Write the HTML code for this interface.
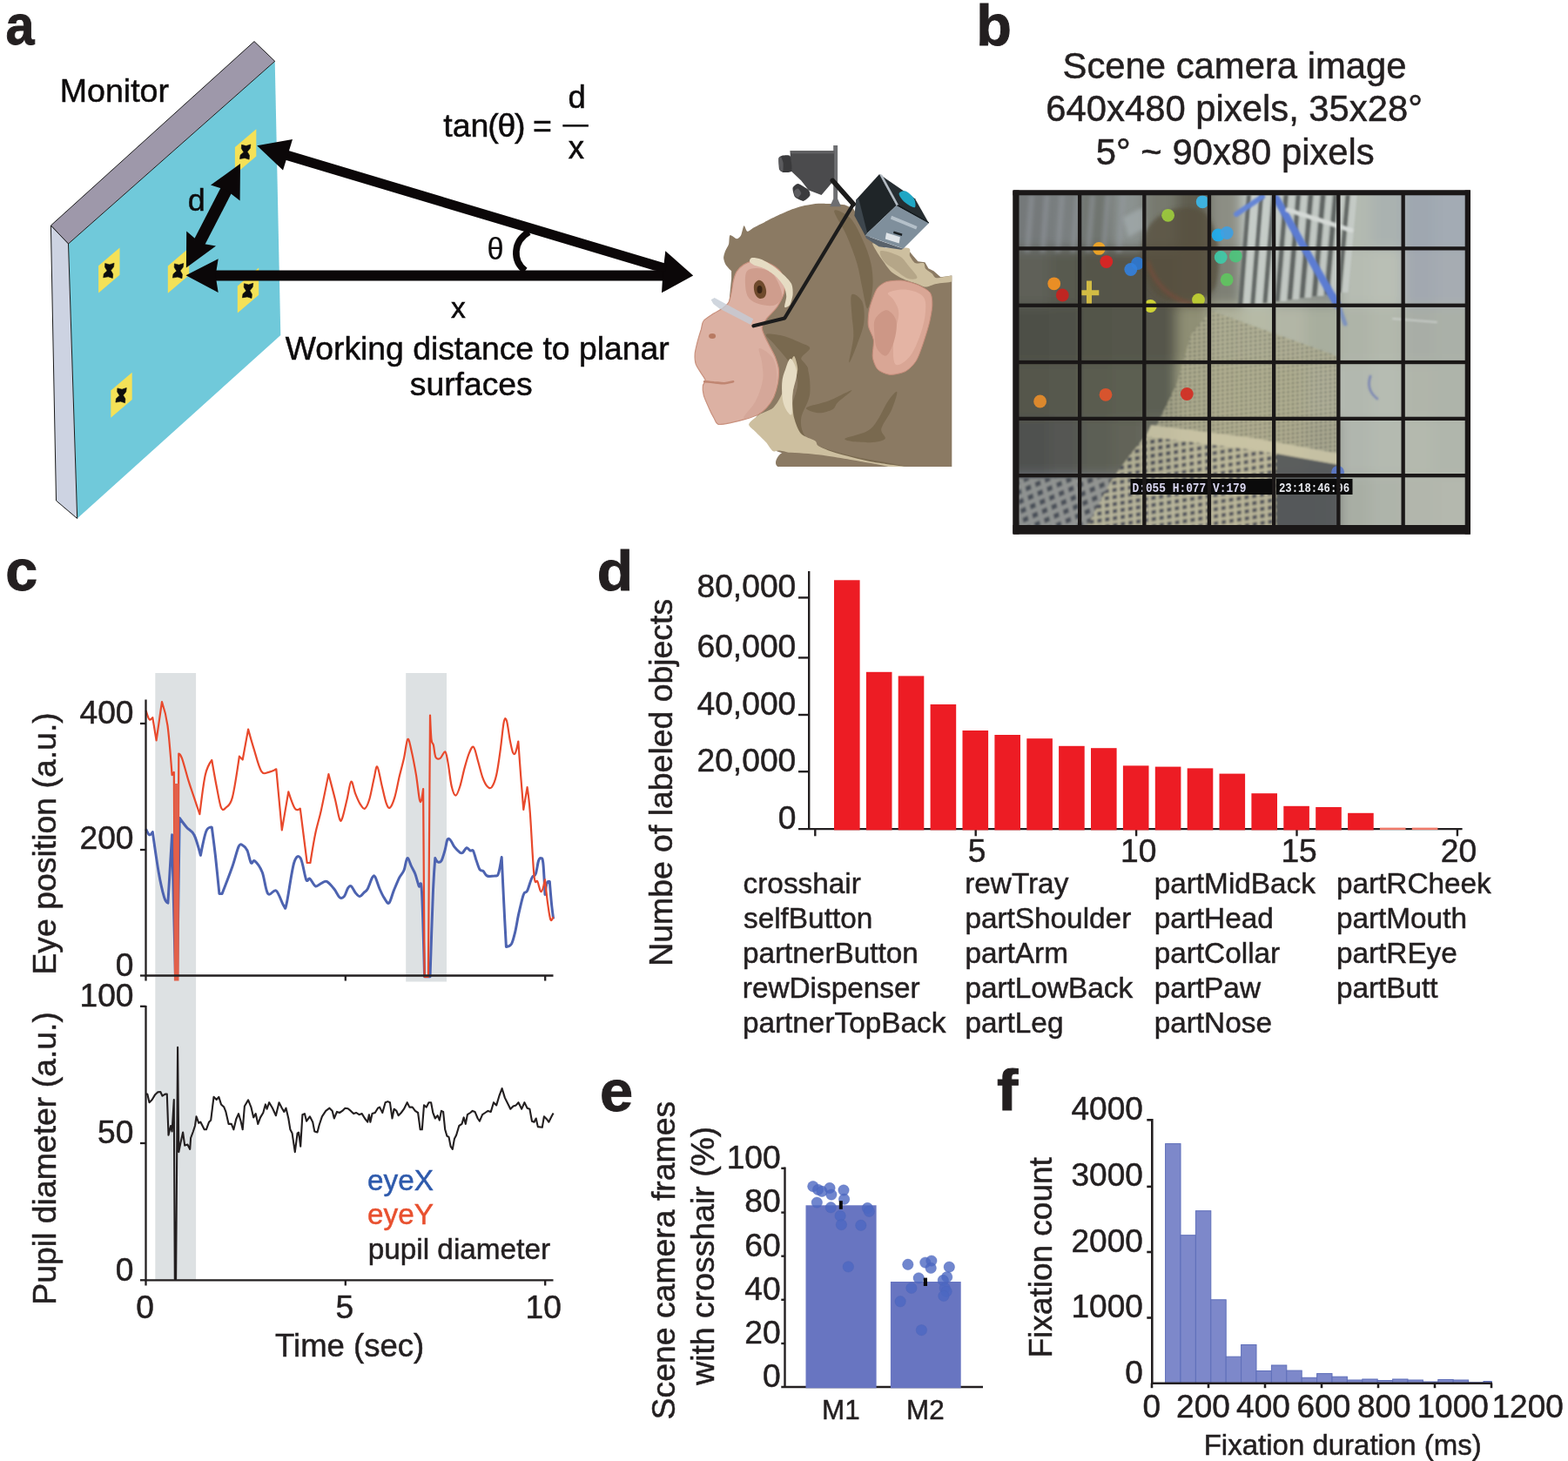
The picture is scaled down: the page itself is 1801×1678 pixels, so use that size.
<!DOCTYPE html>
<html lang="en">
<head>
<meta charset="utf-8">
<title>Figure: wireless eye tracking calibration and labeled objects</title>
<style>
html, body { margin: 0; padding: 0; background: #ffffff; }
body { width: 1801px; height: 1678px; overflow: hidden; }
svg { display: block; font-family: "Liberation Sans", sans-serif; }
</style>
</head>
<body>
<svg width="1801" height="1678" viewBox="0 0 1801 1678">
<rect x="0" y="0" width="1801" height="1678" fill="#ffffff"/>
<g id="panel-a">
<text transform="translate(6.56 51.36) scale(0.5936 0.6524)" x="0" y="0" font-size="100" font-weight="bold" fill="#231f20" stroke="#231f20" stroke-width="1.4">a</text>
<text x="68.7" y="116.7" font-size="37.6" text-anchor="start" fill="#0d0b0c" font-weight="normal"  stroke="#0d0b0c" stroke-width="0.5">Monitor</text>
<path d="M78.5,280.0 L315.7,70.3 L322.3,385.0 L88.7,595.5Z" fill="#70c9da"/>
<path d="M58.4,259.0 L292.0,47.6 L315.7,70.3 L78.5,280.0Z" fill="#9e98aa" stroke="#1a1a1a" stroke-width="1"/>
<path d="M58.4,259.0 L78.5,280.0 L88.7,595.5 L64.5,575.0Z" fill="#cdd3e2" stroke="#1a1a1a" stroke-width="1"/>
<path d="M113.1,305.3 L137.5,284.5 L137.5,315.7 L113.1,336.5Z" fill="#f4e157"/><path d="M120.7,302.6 L125.9,303.9 L131.1,302.2 L130.5,306.6 L127.3,310.6 L129.7,314.8 L129.3,319.4 L124.3,317.8 L118.7,318.8 L119.3,314.4 L123.1,311.0 L120.5,306.8Z" fill="#0d0d0d" stroke="#0d0d0d" stroke-width="0.6" stroke-linejoin="round"/>
<path d="M192.8,305.6 L217.2,284.8 L217.2,316.0 L192.8,336.8Z" fill="#f4e157"/><path d="M200.4,302.9 L205.6,304.2 L210.8,302.5 L210.2,306.9 L207.0,310.9 L209.4,315.1 L209.0,319.7 L204.0,318.1 L198.4,319.1 L199.0,314.7 L202.8,311.3 L200.2,307.1Z" fill="#0d0d0d" stroke="#0d0d0d" stroke-width="0.6" stroke-linejoin="round"/>
<path d="M269.9,169.0 L294.3,148.2 L294.3,179.4 L269.9,200.2Z" fill="#f4e157"/><path d="M277.5,166.3 L282.7,167.6 L287.9,165.9 L287.3,170.3 L284.1,174.3 L286.5,178.5 L286.1,183.1 L281.1,181.5 L275.5,182.5 L276.1,178.1 L279.9,174.7 L277.3,170.5Z" fill="#0d0d0d" stroke="#0d0d0d" stroke-width="0.6" stroke-linejoin="round"/>
<path d="M272.8,328.4 L297.2,307.6 L297.2,338.8 L272.8,359.6Z" fill="#f4e157"/><path d="M280.4,325.7 L285.6,327.0 L290.8,325.3 L290.2,329.7 L287.0,333.7 L289.4,337.9 L289.0,342.5 L284.0,340.9 L278.4,341.9 L279.0,337.5 L282.8,334.1 L280.2,329.9Z" fill="#0d0d0d" stroke="#0d0d0d" stroke-width="0.6" stroke-linejoin="round"/>
<path d="M127.3,448.6 L151.7,427.8 L151.7,459.0 L127.3,479.8Z" fill="#f4e157"/><path d="M134.9,445.9 L140.1,447.2 L145.3,445.5 L144.7,449.9 L141.5,453.9 L143.9,458.1 L143.5,462.7 L138.5,461.1 L132.9,462.1 L133.5,457.7 L137.3,454.3 L134.7,450.1Z" fill="#0d0d0d" stroke="#0d0d0d" stroke-width="0.6" stroke-linejoin="round"/>
<path d="M246,310.6 L762,310.6 L762,322.5 L246,322.5Z" fill="#0b0708"/>
<path d="M213.5,316.2 L250.7,297.3 L247.6,316.4 L250.7,335.9Z" fill="#0b0708"/>
<path d="M796.2,316.6 L764.3,288.3 L761.5,312.0 L760.0,336.3Z" fill="#0b0708"/>
<path d="M329.0,172.3 L766.0,303.2 L764.0,312.0 L752.0,310.8 L325.5,183.0Z" fill="#0b0708"/>
<path d="M295.2,167.2 L336.0,160.0 L330.5,178.0 L325.0,195.5Z" fill="#0b0708"/>
<path d="M233.8,284.1 L267.7,218.3 L255.4,212.0 L221.5,277.8Z" fill="#0b0708"/>
<path d="M276.0,188.0 L242.0,212.6 L259.5,218.0 L275.6,230.5Z" fill="#0b0708"/>
<path d="M213.9,307.6 L214.2,265.6 L230.5,279.5 L248.0,282.6Z" fill="#0b0708"/>
<text x="215.8" y="242.2" font-size="35.8" text-anchor="start" fill="#0d0b0c" font-weight="normal"  stroke="#0d0b0c" stroke-width="0.5">d</text>
<path d="M607.6,266.5 C589,277 588.5,300 603.3,310.8" fill="none" stroke="#0b0708" stroke-width="7.6"/>
<text x="559.5" y="297.8" font-size="34.3" text-anchor="start" fill="#0d0b0c" font-weight="normal"  stroke="#0d0b0c" stroke-width="0.15">θ</text>
<text x="518.1" y="364.5" font-size="33.6" text-anchor="start" fill="#0d0b0c" font-weight="normal"  stroke="#0d0b0c" stroke-width="0.5">x</text>
<text x="509.3" y="157.3" font-size="37.5" text-anchor="start" fill="#0d0b0c" font-weight="normal" dx="0 0 0 -1.3 -1.2 -1.2 -1 -1" stroke="#0d0b0c" stroke-width="0.5">tan(θ) =</text>
<text x="662.6" y="124.4" font-size="36.5" text-anchor="middle" fill="#0d0b0c" font-weight="normal"  stroke="#0d0b0c" stroke-width="0.5">d</text>
<rect x="646.3" y="143.1" width="29.6" height="2.5" fill="#0d0b0c"/>
<text x="661.8" y="182.3" font-size="36.5" text-anchor="middle" fill="#0d0b0c" font-weight="normal"  stroke="#0d0b0c" stroke-width="0.5">x</text>
<text x="327.7" y="413.4" font-size="37.3" text-anchor="start" fill="#0d0b0c" font-weight="normal"  stroke="#0d0b0c" stroke-width="0.5">Working distance to planar</text>
<text x="470.8" y="454.4" font-size="37.3" text-anchor="start" fill="#0d0b0c" font-weight="normal"  stroke="#0d0b0c" stroke-width="0.5">surfaces</text>
</g>
<g id="monkey">
<defs><filter id="mblur" x="-20%" y="-20%" width="140%" height="140%"><feGaussianBlur stdDeviation="0.7"/></filter><clipPath id="mclip"><rect x="780" y="150" width="313.3" height="386"/></clipPath></defs>
<g clip-path="url(#mclip)">
<path d="M957.2,234.1 C955.0,234.1 944.6,233.5 940.2,233.7 C935.8,234.0 928.5,235.1 924.2,236.1 C919.9,237.1 912.4,239.5 908.2,241.1 C903.9,242.7 896.2,246.3 892.2,248.1 C888.2,250.0 881.6,253.4 878.1,255.2 C874.7,256.9 868.7,259.7 866.1,261.2 C863.5,262.6 860.1,266.0 858.5,265.8 C857.0,265.5 855.5,258.6 854.5,259.2 C853.5,259.7 852.2,268.2 851.1,270.2 C850.0,272.2 847.8,274.2 846.1,274.2 C844.4,274.2 839.7,269.4 838.5,270.2 C837.3,271.0 837.8,277.8 837.1,280.2 C836.4,282.6 833.9,286.1 833.1,288.2 C832.3,290.3 831.0,294.1 831.1,296.2 C831.2,298.3 832.5,302.2 833.7,304.2 C834.9,306.2 839.2,310.3 840.1,311.2 L840.1,320.0 L838.1,340.0 L836.1,360.1 L860.1,380.1 L872.1,420.1 L880.1,460.2 L864.1,486.2 L872.1,498.2 L882.1,508.2 L892.2,518.3 L898.2,520.3 L896.2,538.3 L1094.4,538.3 L1094.4,318.0 L1094.4,316.2 L1088.4,317.2 L1080.4,318.2 L1072.4,311.2 L1066.4,308.2 L1062.4,301.2 L1054.4,300.2 L1048.3,293.2 L1044.3,288.2 L1026.3,288.2 L1012.3,284.2 L1000.3,274.2 L990.3,258.2 L980.3,239.7 L970.3,235.3Z" fill="#8b7a63"/>
<path d="M1002.2,279.5 C1002.7,278.1 1012.0,283.7 1016.8,284.4 C1021.7,285.0 1040.4,283.9 1043.7,285.0 C1047.0,286.1 1044.1,291.5 1044.9,293.5 C1045.8,295.5 1049.2,301.1 1051.0,302.1 C1052.9,303.1 1059.4,301.3 1060.8,302.1 C1062.2,302.9 1062.1,307.4 1063.2,308.8 C1064.4,310.2 1069.1,313.1 1070.6,314.3 C1072.0,315.5 1072.8,318.9 1075.5,319.2 C1078.1,319.5 1091.1,316.2 1093.2,316.7 C1095.2,317.2 1095.2,322.4 1093.2,323.5 C1091.1,324.5 1078.9,325.2 1075.5,325.9 C1072.0,326.6 1065.8,329.6 1063.2,329.6 C1060.7,329.6 1056.3,326.9 1053.5,325.9 C1050.6,324.9 1042.2,322.6 1038.8,321.0 C1035.4,319.5 1027.3,315.3 1024.1,312.5 C1021.0,309.6 1014.5,300.4 1011.9,296.6 C1009.4,292.7 1001.6,280.9 1002.2,279.5Z" fill="#cdbf9f"/>
<path d="M1011.9,288.0 C1015.0,287.2 1027.6,291.5 1032.7,294.1 C1037.8,296.8 1039.0,299.8 1042.5,303.9 C1045.9,308.0 1053.5,315.9 1053.5,318.6 C1053.5,321.2 1047.0,321.4 1042.5,319.8 C1038.0,318.2 1031.3,312.3 1026.6,308.8 C1021.9,305.3 1016.8,302.5 1014.4,299.0 C1011.9,295.6 1008.9,288.9 1011.9,288.0Z" fill="#b5a688"/>
<path d="M958.2,242.1 C958.9,238.8 970.9,244.8 976.3,250.1 C981.6,255.5 986.3,265.5 990.3,274.2 C994.3,282.9 998.3,292.9 1000.3,302.2 C1002.3,311.6 1003.0,321.6 1002.3,330.2 C1001.6,338.9 998.3,354.3 996.3,354.3 C994.3,354.3 992.3,338.9 990.3,330.2 C988.3,321.6 987.3,312.2 984.3,302.2 C981.3,292.2 976.6,280.2 972.3,270.2 C967.9,260.2 957.6,245.5 958.2,242.1Z" fill="#79694f"/>
<path d="M978.3,338.2 C980.3,335.9 987.9,340.9 990.3,346.3 C992.6,351.6 993.3,361.9 992.3,370.3 C991.3,378.6 987.1,388.6 984.3,396.3 C981.4,404.0 975.9,418.0 975.3,416.3 C974.6,414.7 979.8,395.7 980.3,386.3 C980.8,377.0 978.6,368.3 978.3,360.3 C977.9,352.3 976.3,340.6 978.3,338.2Z" fill="#79694f"/>
<path d="M880.1,384.1 C882.1,382.8 893.5,384.4 900.2,386.1 C906.8,387.8 915.2,391.8 920.2,394.1 C925.2,396.4 930.2,397.1 930.2,400.1 C930.2,403.1 920.5,408.1 920.2,412.1 C919.9,416.1 928.2,419.5 928.2,424.1 C928.2,428.8 922.9,440.2 920.2,440.2 C917.5,440.2 915.5,429.5 912.2,424.1 C908.8,418.8 904.2,413.1 900.2,408.1 C896.2,403.1 891.5,398.1 888.2,394.1 C884.8,390.1 878.1,385.4 880.1,384.1Z" fill="#79694f"/>
<path d="M908.2,408.1 C909.8,404.8 922.5,412.8 926.2,420.1 C929.9,427.5 931.2,442.2 930.2,452.2 C929.2,462.2 921.2,472.2 920.2,480.2 C919.2,488.2 920.9,494.9 924.2,500.2 C927.5,505.6 930.9,508.2 940.2,512.3 C949.6,516.3 963.6,520.3 980.3,524.3 C997.0,528.3 1040.3,534.3 1040.3,536.3 C1040.3,538.3 998.3,539.0 980.3,536.3 C962.2,533.6 943.6,526.3 932.2,520.3 C920.9,514.3 916.2,508.2 912.2,500.2 C908.2,492.2 907.5,482.2 908.2,472.2 C908.8,462.2 916.2,450.8 916.2,440.2 C916.2,429.5 906.5,411.5 908.2,408.1Z" fill="#79694f"/>
<path d="M926.2,468.2 C928.2,465.9 943.6,463.5 952.2,460.2 C960.9,456.9 976.6,447.8 978.3,448.2 C979.9,448.5 965.9,458.5 962.2,462.2 C958.6,465.9 959.9,468.2 956.2,470.2 C952.6,472.2 945.2,474.5 940.2,474.2 C935.2,473.9 924.2,470.5 926.2,468.2Z" fill="#79694f"/>
<path d="M970.3,504.2 C970.9,501.6 991.9,499.6 1000.3,492.2 C1008.6,484.9 1015.3,467.2 1020.3,460.2 C1025.3,453.2 1029.7,448.5 1030.3,450.2 C1031.0,451.8 1027.3,463.2 1024.3,470.2 C1021.3,477.2 1013.6,486.6 1012.3,492.2 C1011.0,497.9 1019.0,501.6 1016.3,504.2 C1013.6,506.9 1004.0,508.2 996.3,508.2 C988.6,508.2 969.6,506.9 970.3,504.2Z" fill="#79694f"/>
<path d="M912.2,409.1 C913.4,409.9 916.2,420.0 916.2,424.1 C916.2,428.3 913.0,435.4 912.2,440.2 C911.4,445.0 910.2,454.9 910.2,460.2 C910.2,465.5 910.8,475.1 912.2,480.2 C913.5,485.3 917.0,494.8 920.2,498.2 C923.4,501.7 933.5,504.4 936.2,506.2 C938.9,508.1 937.0,510.4 940.2,512.3 C943.4,514.1 952.2,517.9 960.2,520.3 C968.2,522.7 989.1,528.0 1000.3,530.3 C1011.5,532.5 1049.7,536.4 1044.3,537.3 C1039.0,538.2 979.5,539.8 960.2,537.3 C941.0,534.7 909.8,520.8 900.2,518.3 C890.6,515.7 890.8,519.6 888.2,518.3 C885.5,516.9 882.8,511.2 880.1,508.2 C877.5,505.3 870.8,499.0 868.1,496.2 C865.5,493.4 859.6,489.9 860.1,487.2 C860.7,484.6 868.4,478.7 872.1,476.2 C875.9,473.7 884.7,471.4 888.2,468.2 C891.6,465.0 896.0,457.3 898.2,452.2 C900.3,447.1 903.0,434.7 904.2,430.2 C905.4,425.6 906.1,420.9 907.2,418.1 C908.2,415.3 911.0,408.3 912.2,409.1Z" fill="#cdbf9f"/>
<path d="M908.2,412.1 C910.3,412.8 914.9,421.5 915.2,428.2 C915.5,434.8 911.2,444.2 910.2,452.2 C909.2,460.2 910.8,474.2 909.2,476.2 C907.5,478.2 902.0,470.2 900.2,464.2 C898.3,458.2 897.8,446.8 898.2,440.2 C898.5,433.5 900.5,428.8 902.2,424.1 C903.8,419.5 906.0,411.5 908.2,412.1Z" fill="#e6dcc3"/>
<path d="M898.2,520.3 C902.5,518.8 931.0,521.3 940.2,522.3 C949.4,523.3 982.3,528.8 990.3,530.3 C998.3,531.8 1029.6,536.6 1020.3,537.3 C1011.0,538.0 909.4,539.0 897.2,537.3 C884.9,535.6 893.9,521.8 898.2,520.3Z" fill="#8b7a63"/>
<path d="M854.1,304.0 C851.2,305.7 847.7,309.6 846.1,312.0 C844.6,314.4 843.3,318.8 842.5,322.0 C841.7,325.2 840.8,332.7 840.1,336.0 C839.4,339.4 838.4,344.7 837.1,347.1 C835.8,349.5 832.6,352.2 830.1,354.1 C827.5,355.9 821.0,359.2 818.1,361.1 C815.1,363.0 809.8,366.2 808.1,368.5 C806.3,370.8 806.2,375.3 805.3,378.5 C804.3,381.6 802.2,388.4 801.2,392.1 C800.3,395.8 798.5,402.7 798.2,406.1 C798.0,409.6 798.3,415.2 799.2,418.1 C800.2,421.1 803.8,426.1 805.3,428.6 C806.7,431.0 809.8,434.6 810.1,436.6 C810.3,438.5 807.5,441.0 807.3,443.4 C807.0,445.7 807.4,450.9 808.3,454.2 C809.2,457.5 812.5,464.7 814.1,468.2 C815.6,471.7 818.6,477.7 820.1,480.2 C821.5,482.8 822.4,486.7 825.1,487.4 C827.7,488.1 836.0,486.2 840.1,485.4 C844.2,484.6 852.1,482.6 856.1,481.4 C860.2,480.2 867.3,478.0 870.5,476.2 C873.8,474.4 878.1,470.9 880.5,468.2 C882.9,465.5 886.8,459.9 888.6,456.2 C890.3,452.4 892.6,444.4 893.4,440.2 C894.1,435.9 894.8,428.2 894.4,424.1 C894.0,420.1 891.7,413.6 890.4,410.1 C889.0,406.7 886.0,401.3 884.3,398.1 C882.7,394.9 879.5,389.0 878.3,386.1 C877.1,383.2 875.0,378.8 875.3,376.1 C875.6,373.4 878.2,369.2 880.5,366.1 C882.8,362.9 889.9,356.4 892.6,352.5 C895.2,348.5 899.4,340.5 900.6,336.4 C901.7,332.4 901.8,325.6 901.0,322.0 C900.2,318.5 897.1,312.7 894.6,310.0 C892.1,307.3 885.7,303.5 882.1,302.0 C878.6,300.5 871.9,298.7 868.1,299.0 C864.4,299.3 857.0,302.3 854.1,304.0Z" fill="#dcb1a3" stroke="#c9917e" stroke-width="1.2"/>
<path d="M872.1,400.1 C874.3,399.5 884.8,406.1 888.2,412.1 C891.5,418.1 892.5,428.5 892.2,436.2 C891.8,443.8 889.5,451.8 886.2,458.2 C882.8,464.5 877.5,470.5 872.1,474.2 C866.8,477.9 854.8,482.6 854.1,480.2 C853.4,477.9 864.5,467.5 868.1,460.2 C871.8,452.9 875.0,443.5 876.1,436.2 C877.3,428.8 875.8,422.1 875.1,416.1 C874.5,410.1 870.0,400.8 872.1,400.1Z" fill="#d3a596" opacity="0.8"/>
<path d="M858.1,311.2 C860.8,307.9 867.1,307.5 872.1,308.2 C877.1,308.9 883.8,310.2 888.2,315.2 C892.5,320.2 897.8,332.4 898.2,338.2 C898.5,344.1 894.5,348.4 890.2,350.3 C885.8,352.1 877.1,350.6 872.1,349.3 C867.1,347.9 862.8,345.8 860.1,342.3 C857.5,338.8 856.4,333.4 856.1,328.2 C855.8,323.1 855.4,314.6 858.1,311.2Z" fill="#cf9d8d"/>
<path d="M866.1,327.2 C866.8,324.7 869.5,322.2 871.3,321.8 C873.2,321.5 875.7,323.2 877.1,325.2 C878.6,327.3 880.0,331.6 880.1,334.2 C880.3,336.9 879.5,339.9 878.1,341.3 C876.8,342.7 874.0,343.3 872.1,342.7 C870.3,342.0 868.1,339.8 867.1,337.2 C866.1,334.7 865.4,329.8 866.1,327.2Z" fill="#6f4a2c"/>
<ellipse cx="872.5" cy="332.6" rx="3" ry="4.5" fill="#3a2414"/>
<path d="M863.1,296.2 C864.9,295.8 870.8,296.5 874.1,297.8 C877.5,299.1 884.7,303.4 888.2,305.8 C891.6,308.2 897.4,313.1 900.2,315.8 C903.0,318.5 907.8,323.2 909.2,326.2 C910.6,329.2 910.8,335.0 910.6,338.2 C910.3,341.5 908.4,348.3 907.2,350.3 C905.9,352.2 901.7,354.0 901.2,352.7 C900.6,351.3 903.3,343.5 903.2,340.3 C903.0,337.0 901.9,331.8 900.2,328.6 C898.4,325.5 893.1,319.3 890.2,316.6 C887.2,314.0 881.3,310.2 878.1,308.6 C874.9,307.0 868.4,305.7 866.1,304.6 C863.9,303.5 861.5,301.7 861.1,300.6 C860.7,299.5 861.4,296.6 863.1,296.2Z" fill="#e6dcc3"/>
<path d="M809.1,438.2 C810.9,438.3 816.2,438.8 820.1,439.2 C823.9,439.5 828.4,440.3 832.1,440.2 C835.8,440.0 840.4,438.5 842.1,438.2" fill="none" stroke="#c08672" stroke-width="2.6" stroke-linecap="round"/>
<ellipse cx="818.1" cy="386.1" rx="4" ry="3" fill="#b87a62"/>
<path d="M816.7,344.3 L820.7,341.9 L865.1,366.3 L862.3,373.1 L826.1,354.3 L819.3,348.9Z" fill="#c4ccd6" fill-opacity="0.8"/>
<path d="M1008.3,330.2 C1010.3,328.0 1014.6,324.7 1018.3,323.6 C1022.0,322.6 1031.5,321.8 1036.3,322.2 C1041.1,322.7 1050.1,325.4 1054.4,327.2 C1058.6,329.1 1066.2,333.2 1068.4,336.2 C1070.6,339.3 1070.9,345.7 1070.8,350.3 C1070.7,354.8 1069.0,364.4 1067.6,370.3 C1066.2,376.2 1062.4,388.4 1060.4,394.3 C1058.3,400.2 1055.0,410.1 1052.4,414.3 C1049.7,418.6 1044.3,424.2 1040.3,426.4 C1036.3,428.5 1026.6,430.6 1022.3,430.4 C1018.0,430.1 1011.0,427.0 1008.3,424.4 C1005.6,421.7 1003.0,414.9 1002.3,410.3 C1001.6,405.8 1004.0,395.1 1003.3,390.3 C1002.6,385.5 998.0,378.8 997.3,374.3 C996.6,369.8 997.5,360.8 998.3,356.3 C999.1,351.7 1002.0,343.7 1003.3,340.3 C1004.6,336.8 1006.3,332.5 1008.3,330.2Z" fill="#d9a695" stroke="#c58c7a" stroke-width="1"/>
<path d="M1020.3,336.2 C1022.6,334.3 1033.7,331.9 1040.3,332.6 C1047.0,333.4 1056.6,336.0 1060.4,340.7 C1064.1,345.3 1063.4,352.7 1062.8,360.3 C1062.1,367.9 1059.4,378.0 1056.4,386.3 C1053.3,394.7 1049.0,405.0 1044.3,410.3 C1039.7,415.7 1031.3,421.7 1028.3,418.3 C1025.3,415.0 1025.7,400.0 1026.3,390.3 C1027.0,380.6 1032.3,368.0 1032.3,360.3 C1032.3,352.6 1028.3,348.3 1026.3,344.3 C1024.3,340.3 1018.0,338.2 1020.3,336.2Z" fill="#e4b4a4"/>
<path d="M1005.3,366.3 C1007.6,361.9 1014.3,355.9 1018.3,356.3 C1022.3,356.6 1027.8,362.6 1029.3,368.3 C1030.8,374.0 1029.2,383.6 1027.3,390.3 C1025.5,397.0 1021.6,406.7 1018.3,408.3 C1015.0,410.0 1009.6,404.7 1007.3,400.3 C1005.0,396.0 1004.6,388.0 1004.3,382.3 C1004.0,376.6 1003.0,370.6 1005.3,366.3Z" fill="#cd9786"/>
</g>
<path d="M957.2,167.1 L962.1,167.1 L962.1,228.2 L966.1,237.3 L953.1,237.3 L957.2,228.2Z" fill="#6d6e71"/>
<path d="M907.5,173.2 L958.2,173.2 L958.2,206.8 L943.5,223.9 L928.9,218.4 L920.3,207.4 L908.7,196.4Z" fill="#4b4b4d"/>
<path d="M907.5,173.2 L958.2,173.2 L958.2,176.6 L909.1,176.6Z" fill="#5f5f61"/>
<path d="M894.4,182.0 C894.7,180.4 897.0,179.1 898.3,178.8 C899.6,178.6 906.5,177.6 907.6,179.3 C908.7,181.1 910.1,194.6 909.3,196.4 C908.5,198.3 901.0,198.1 899.5,197.9 C898.1,197.7 895.7,196.2 895.1,194.6 C894.6,193.0 894.1,183.6 894.4,182.0Z" fill="#3a3a3c"/>
<path d="M894.4,182.0 C894.5,180.5 896.6,180.1 897.1,180.5 C897.6,181.0 899.3,185.1 899.5,186.6 C899.8,188.2 899.7,195.6 899.3,196.4 C898.9,197.3 896.4,196.6 895.9,195.2 C895.4,193.8 894.3,183.5 894.4,182.0Z" fill="#5a5a5d"/>
<path d="M910.5,216.0 C910.9,214.5 914.8,210.8 916.6,211.1 C918.5,211.3 927.5,217.0 928.9,218.4 C930.2,219.8 930.9,223.5 930.3,224.8 C929.7,226.0 924.5,230.7 922.8,230.9 C921.0,231.0 914.2,227.5 913.0,226.0 C911.8,224.5 910.2,217.5 910.5,216.0Z" fill="#3b3b3d"/>
<path d="M912.0,219.6 C912.4,218.8 915.8,216.3 916.6,216.6 C917.5,216.8 920.3,221.0 920.3,222.1 C920.3,223.1 917.4,226.7 916.6,227.0 C915.9,227.2 913.4,225.3 913.0,224.5 C912.5,223.8 911.6,220.4 912.0,219.6Z" fill="#5c5c5f"/>
<path d="M993.6,270.3 L1037.6,285.8 L1035.1,286.8 L1009.5,283.2 L994.8,273.4Z" fill="#59626b"/>
<path d="M983.2,229.4 L1010.1,200.1 L1029.6,236.1 L993.6,270.3Z" fill="#1f2528"/>
<path d="M1010.1,200.1 L1051.0,228.2 L1066.9,256.3 L1029.6,236.1Z" fill="#262d31"/>
<path d="M1029.6,236.1 L1066.9,256.3 L1037.6,285.6 L993.6,270.3Z" fill="#7f8f9c"/>
<path d="M1010.1,200.1 L1013.2,200.7 L1032.1,235.5 L1029.6,236.1Z" fill="#b4bcc4"/>
<path d="M1029.6,236.1 L1032.1,235.5 L1066.9,255.3 L1066.9,256.5Z" fill="#11181c"/>
<path d="M1032.7,222.1 C1033.3,220.4 1037.2,218.6 1040.0,219.6 C1042.9,220.6 1048.0,225.1 1049.8,228.2 C1051.6,231.2 1052.0,236.7 1051.0,238.0 C1050.0,239.2 1046.1,236.9 1043.7,235.5 C1041.3,234.1 1038.2,231.6 1036.4,229.4 C1034.5,227.2 1032.1,223.7 1032.7,222.1Z" fill="#1fa6c4"/>
<path d="M1024.1,247.7 L1053.5,259.9 L1052.2,263.6 L1022.9,251.4Z" fill="#c2ccd4" opacity="0.8"/>
<path d="M1018.0,267.3 L1033.9,272.2 L1032.7,279.5 L1016.8,274.6Z" fill="#dfe4e8"/>
<path d="M1026.6,265.4 L1036.4,268.5 L1035.8,270.9 L1026.0,267.9Z" fill="#1a1f22"/>
<path d="M983.2,229.4 L986.3,228.2 L996.1,267.3 L993.6,270.3 L981.4,247.7Z" fill="#3d464d"/>
<path d="M956.3,207.4 L980.2,234.3 L901.2,365.5 L865.5,374.3" fill="none" stroke="#1c1c1c" stroke-width="4.2" stroke-linejoin="round" stroke-linecap="round"/>
<path d="M956.3,207.4 L980.2,234.3" fill="none" stroke="#1c1c1c" stroke-width="5.6" stroke-linecap="round"/>
</g>
<g id="panel-b">
<text transform="translate(1121.17 52.14) scale(0.6654 0.6607)" x="0" y="0" font-size="100" font-weight="bold" fill="#231f20" stroke="#231f20" stroke-width="1.4">b</text>
<text x="1220.6" y="89.8" font-size="41.8" text-anchor="start" fill="#231f20" font-weight="normal"  stroke="#231f20" stroke-width="0.5">Scene camera image</text>
<text x="1201.3" y="139.4" font-size="41.8" text-anchor="start" fill="#231f20" font-weight="normal"  stroke="#231f20" stroke-width="0.5">640x480 pixels, 35x28°</text>
<text x="1258.8" y="189.0" font-size="41.8" text-anchor="start" fill="#231f20" font-weight="normal"  stroke="#231f20" stroke-width="0.5">5° ~ 90x80 pixels</text>
<defs>
<clipPath id="bclip"><rect x="1168" y="222" width="517" height="384"/></clipPath>
<filter id="bblur" x="-10%" y="-10%" width="120%" height="120%"><feGaussianBlur stdDeviation="7"/></filter>
<filter id="bblur2" x="-20%" y="-20%" width="140%" height="140%"><feGaussianBlur stdDeviation="2.2"/></filter>
<filter id="bblur3" x="-20%" y="-20%" width="140%" height="140%"><feGaussianBlur stdDeviation="1.2"/></filter>
<pattern id="floorA" width="9" height="8" patternUnits="userSpaceOnUse" patternTransform="rotate(-9) skewX(-8)"><rect width="9" height="8" fill="#c0bc9e"/><rect x="2" y="1.8" width="5.2" height="4.6" fill="#4a4e58"/></pattern>
<pattern id="floorB" width="5.4" height="4.8" patternUnits="userSpaceOnUse" patternTransform="rotate(-6) skewX(-6)"><rect width="5.4" height="4.8" fill="#b4b294"/><rect x="1.3" y="1.2" width="2.9" height="2.5" fill="#6c6e60"/></pattern>
<pattern id="floorC" width="12" height="10.5" patternUnits="userSpaceOnUse" patternTransform="rotate(-24) skewX(-10)"><rect width="12" height="10.5" fill="#9a9c98"/><rect x="2.8" y="2.6" width="6.6" height="5.6" fill="#3e424c"/></pattern>
</defs>
<rect x="1163.5" y="218.5" width="525.5" height="395" rx="1.5" fill="#1a1717"/>
<g clip-path="url(#bclip)">
<g filter="url(#bblur)">
<rect x="1130" y="190" width="600" height="460" fill="#6a6c62"/>
<rect x="1130.5" y="184.3" width="75.3" height="101.6" fill="#74797a"/>
<rect x="1205.3" y="184.3" width="35.4" height="101.6" fill="#7a7f80"/>
<rect x="1240.2" y="184.3" width="37.6" height="101.6" fill="#70746f"/>
<rect x="1277.3" y="184.3" width="37.6" height="101.6" fill="#8b9290"/>
<rect x="1314.4" y="184.3" width="37.8" height="101.6" fill="#77796e"/>
<rect x="1351.7" y="184.3" width="37.8" height="101.6" fill="#5e5d50"/>
<rect x="1389.0" y="184.3" width="37.6" height="101.6" fill="#8c8e84"/>
<rect x="1426.1" y="184.3" width="37.6" height="101.6" fill="#c2cac6"/>
<rect x="1463.2" y="184.3" width="37.6" height="101.6" fill="#a2aaa6"/>
<rect x="1500.3" y="184.3" width="37.6" height="101.6" fill="#8e9692"/>
<rect x="1537.4" y="184.3" width="37.7" height="101.6" fill="#b3bab1"/>
<rect x="1574.6" y="184.3" width="37.6" height="101.6" fill="#aab2b0"/>
<rect x="1611.7" y="184.3" width="36.0" height="101.6" fill="#9fa7b0"/>
<rect x="1647.2" y="184.3" width="76.0" height="101.6" fill="#a3abb4"/>
<rect x="1130.5" y="285.4" width="75.3" height="65.8" fill="#5e6058"/>
<rect x="1205.3" y="285.4" width="35.4" height="65.8" fill="#585a50"/>
<rect x="1240.2" y="285.4" width="37.6" height="65.8" fill="#54554a"/>
<rect x="1277.3" y="285.4" width="37.6" height="65.8" fill="#565548"/>
<rect x="1314.4" y="285.4" width="37.8" height="65.8" fill="#5a5749"/>
<rect x="1351.7" y="285.4" width="37.8" height="65.8" fill="#5e5a4c"/>
<rect x="1389.0" y="285.4" width="37.6" height="65.8" fill="#7e8074"/>
<rect x="1426.1" y="285.4" width="37.6" height="65.8" fill="#b4bcb4"/>
<rect x="1463.2" y="285.4" width="37.6" height="65.8" fill="#959b96"/>
<rect x="1500.3" y="285.4" width="37.6" height="65.8" fill="#8c928c"/>
<rect x="1537.4" y="285.4" width="37.7" height="65.8" fill="#b6bcb2"/>
<rect x="1574.6" y="285.4" width="37.6" height="65.8" fill="#b9bfb5"/>
<rect x="1611.7" y="285.4" width="36.0" height="65.8" fill="#a2a8b0"/>
<rect x="1647.2" y="285.4" width="76.0" height="65.8" fill="#a6acb2"/>
<rect x="1130.5" y="350.7" width="75.3" height="65.8" fill="#4e4f47"/>
<rect x="1205.3" y="350.7" width="35.4" height="65.8" fill="#50514a"/>
<rect x="1240.2" y="350.7" width="37.6" height="65.8" fill="#52544a"/>
<rect x="1277.3" y="350.7" width="37.6" height="65.8" fill="#54564b"/>
<rect x="1314.4" y="350.7" width="37.8" height="65.8" fill="#56574b"/>
<rect x="1351.7" y="350.7" width="37.8" height="65.8" fill="#8f8f74"/>
<rect x="1389.0" y="350.7" width="37.6" height="65.8" fill="#b0b29c"/>
<rect x="1426.1" y="350.7" width="37.6" height="65.8" fill="#b6baa6"/>
<rect x="1463.2" y="350.7" width="37.6" height="65.8" fill="#b2b6a6"/>
<rect x="1500.3" y="350.7" width="37.6" height="65.8" fill="#a8ae9e"/>
<rect x="1537.4" y="350.7" width="37.7" height="65.8" fill="#aeb4a8"/>
<rect x="1574.6" y="350.7" width="37.6" height="65.8" fill="#b2b8ac"/>
<rect x="1611.7" y="350.7" width="36.0" height="65.8" fill="#a8ada6"/>
<rect x="1647.2" y="350.7" width="76.0" height="65.8" fill="#aab0a8"/>
<rect x="1130.5" y="416.0" width="75.3" height="65.3" fill="#54564b"/>
<rect x="1205.3" y="416.0" width="35.4" height="65.3" fill="#56584d"/>
<rect x="1240.2" y="416.0" width="37.6" height="65.3" fill="#5a5c4f"/>
<rect x="1277.3" y="416.0" width="37.6" height="65.3" fill="#5c5e51"/>
<rect x="1314.4" y="416.0" width="37.8" height="65.3" fill="#5c5e52"/>
<rect x="1351.7" y="416.0" width="37.8" height="65.3" fill="#a2a284"/>
<rect x="1389.0" y="416.0" width="37.6" height="65.3" fill="#b2b18c"/>
<rect x="1426.1" y="416.0" width="37.6" height="65.3" fill="#b6b590"/>
<rect x="1463.2" y="416.0" width="37.6" height="65.3" fill="#b6b592"/>
<rect x="1500.3" y="416.0" width="37.6" height="65.3" fill="#b6bbb2"/>
<rect x="1537.4" y="416.0" width="37.7" height="65.3" fill="#b2b8af"/>
<rect x="1574.6" y="416.0" width="37.6" height="65.3" fill="#b6bcb2"/>
<rect x="1611.7" y="416.0" width="36.0" height="65.3" fill="#b0b5aa"/>
<rect x="1647.2" y="416.0" width="76.0" height="65.3" fill="#aeb4aa"/>
<rect x="1130.5" y="480.8" width="75.3" height="65.8" fill="#4f5150"/>
<rect x="1205.3" y="480.8" width="35.4" height="65.8" fill="#545652"/>
<rect x="1240.2" y="480.8" width="37.6" height="65.8" fill="#5c5e54"/>
<rect x="1277.3" y="480.8" width="37.6" height="65.8" fill="#626458"/>
<rect x="1314.4" y="480.8" width="37.8" height="65.8" fill="#6c6e64"/>
<rect x="1351.7" y="480.8" width="37.8" height="65.8" fill="#9e9c84"/>
<rect x="1389.0" y="480.8" width="37.6" height="65.8" fill="#aea888"/>
<rect x="1426.1" y="480.8" width="37.6" height="65.8" fill="#b2aa8a"/>
<rect x="1463.2" y="480.8" width="37.6" height="65.8" fill="#a8a286"/>
<rect x="1500.3" y="480.8" width="37.6" height="65.8" fill="#8a8c86"/>
<rect x="1537.4" y="480.8" width="37.7" height="65.8" fill="#b0b6ae"/>
<rect x="1574.6" y="480.8" width="37.6" height="65.8" fill="#b4bab0"/>
<rect x="1611.7" y="480.8" width="36.0" height="65.8" fill="#b4b9ae"/>
<rect x="1647.2" y="480.8" width="76.0" height="65.8" fill="#b0b6ac"/>
<rect x="1130.5" y="546.1" width="75.3" height="97.4" fill="#6e747c"/>
<rect x="1205.3" y="546.1" width="35.4" height="97.4" fill="#747a80"/>
<rect x="1240.2" y="546.1" width="37.6" height="97.4" fill="#7a7e80"/>
<rect x="1277.3" y="546.1" width="37.6" height="97.4" fill="#808280"/>
<rect x="1314.4" y="546.1" width="37.8" height="97.4" fill="#888a86"/>
<rect x="1351.7" y="546.1" width="37.8" height="97.4" fill="#908e80"/>
<rect x="1389.0" y="546.1" width="37.6" height="97.4" fill="#9a967e"/>
<rect x="1426.1" y="546.1" width="37.6" height="97.4" fill="#8a8672"/>
<rect x="1463.2" y="546.1" width="37.6" height="97.4" fill="#565856"/>
<rect x="1500.3" y="546.1" width="37.6" height="97.4" fill="#606260"/>
<rect x="1537.4" y="546.1" width="37.7" height="97.4" fill="#a8aea4"/>
<rect x="1574.6" y="546.1" width="37.6" height="97.4" fill="#aeb4aa"/>
<rect x="1611.7" y="546.1" width="36.0" height="97.4" fill="#b2b6ac"/>
<rect x="1647.2" y="546.1" width="76.0" height="97.4" fill="#b4b8ae"/>
</g>
<g filter="url(#bblur3)">
<path d="M1391,357 L1536,409 L1538,521 L1440,504 L1328,489 L1352,440 L1368,384Z" fill="url(#floorB)" opacity="0.8"/>
<path d="M1316,500 L1440,516 L1466,520 L1466,606 L1246,606 L1276,552 L1298,522Z" fill="url(#floorA)" opacity="0.85"/>
<path d="M1168,550 L1278,549 L1248,606 L1168,606Z" fill="url(#floorC)" opacity="0.75"/>
<path d="M1322,488 L1440,503 L1538,521 L1538,534 L1440,517 L1316,501Z" fill="#cbc5a6" opacity="0.9"/>
<path d="M1466,521 L1538,534 L1538,606 L1466,606Z" fill="#55585a" opacity="0.92"/>
</g>
<g filter="url(#bblur3)" opacity="0.9">
<path d="M1432.0,224 L1437.0,224 L1427.0,352 L1422.0,352Z" fill="#5c605e"/>
<path d="M1438.0,224 L1445.0,224 L1435.0,352 L1428.0,352Z" fill="#c6ccc8"/>
<path d="M1446.2,224 L1451.2,224 L1441.2,350 L1436.2,350Z" fill="#5c605e"/>
<path d="M1452.2,224 L1459.2,224 L1449.2,350 L1442.2,350Z" fill="#c6ccc8"/>
<path d="M1460.4,224 L1465.4,224 L1455.4,348 L1450.4,348Z" fill="#5c605e"/>
<path d="M1466.4,224 L1473.4,224 L1463.4,348 L1456.4,348Z" fill="#c6ccc8"/>
<path d="M1474.6,224 L1479.6,224 L1469.6,346 L1464.6,346Z" fill="#5c605e"/>
<path d="M1480.6,224 L1487.6,224 L1477.6,346 L1470.6,346Z" fill="#c6ccc8"/>
<path d="M1488.8,224 L1493.8,224 L1483.8,344 L1478.8,344Z" fill="#5c605e"/>
<path d="M1494.8,224 L1501.8,224 L1491.8,344 L1484.8,344Z" fill="#c6ccc8"/>
<path d="M1503.0,224 L1508.0,224 L1498.0,342 L1493.0,342Z" fill="#5c605e"/>
<path d="M1509.0,224 L1516.0,224 L1506.0,342 L1499.0,342Z" fill="#c6ccc8"/>
<path d="M1517.2,224 L1522.2,224 L1512.2,340 L1507.2,340Z" fill="#5c605e"/>
<path d="M1523.2,224 L1530.2,224 L1520.2,340 L1513.2,340Z" fill="#c6ccc8"/>
<path d="M1531.4,224 L1536.4,224 L1526.4,338 L1521.4,338Z" fill="#5c605e"/>
<path d="M1537.4,224 L1544.4,224 L1534.4,338 L1527.4,338Z" fill="#c6ccc8"/>
<path d="M1545.6,224 L1550.6,224 L1540.6,336 L1535.6,336Z" fill="#5c605e"/>
<path d="M1551.6,224 L1558.6,224 L1548.6,336 L1541.6,336Z" fill="#c6ccc8"/>
</g>
<g filter="url(#bblur3)" fill="none" stroke-linecap="round">
<path d="M1466,228 L1500,288 L1536,350" stroke="#5b7bd2" stroke-width="8.5"/>
<path d="M1420,246 L1450,226" stroke="#6585d6" stroke-width="6"/>
<path d="M1479,241 L1552,264.5" stroke="#d4d9d6" stroke-width="5"/>
<path d="M1538,352 L1545,372" stroke="#6a84c8" stroke-width="5" opacity="0.7"/>
<path d="M1574,432 C1570,444 1574,452 1582,458" stroke="#6a78b4" stroke-width="2.5" opacity="0.8"/>
<path d="M1600,366 L1650,370" stroke="#d4d9d6" stroke-width="2" opacity="0.7"/>
</g>
<g filter="url(#bblur2)" opacity="0.5">
<path d="M1182.0,224 L1188.0,224 L1183.0,290 L1177.0,290Z" fill="#949aa0"/>
<path d="M1199.5,224 L1205.5,224 L1200.5,290 L1194.5,290Z" fill="#949aa0"/>
<path d="M1217.0,224 L1223.0,224 L1218.0,290 L1212.0,290Z" fill="#949aa0"/>
<path d="M1234.5,224 L1240.5,224 L1235.5,290 L1229.5,290Z" fill="#949aa0"/>
<path d="M1252.0,224 L1258.0,224 L1253.0,290 L1247.0,290Z" fill="#949aa0"/>
<path d="M1269.5,224 L1275.5,224 L1270.5,290 L1264.5,290Z" fill="#949aa0"/>
<path d="M1287.0,224 L1293.0,224 L1288.0,290 L1282.0,290Z" fill="#949aa0"/>
</g>
<g filter="url(#bblur2)">
<path d="M1318,262 C1332,240 1362,232 1384,244 C1400,262 1404,300 1396,330 C1380,352 1350,352 1330,340 C1310,322 1306,286 1318,262Z" fill="#55503f" opacity="0.75"/>
<path d="M1318,300 C1326,326 1344,344 1372,350" fill="none" stroke="#7a4a38" stroke-width="3.5" opacity="0.8"/>
<path d="M1290,250 L1312,238 L1316,262 L1296,272Z" fill="#a4acae" opacity="0.7"/>
</g>
<circle cx="1381.2" cy="231.8" r="7.4" fill="#3bb8ea" fill-opacity="0.92"/>
<circle cx="1341.6" cy="247.3" r="7.4" fill="#9dcb3d" fill-opacity="0.92"/>
<circle cx="1399.1" cy="269.9" r="7.4" fill="#1eaef0" fill-opacity="0.92"/>
<circle cx="1409.2" cy="267.5" r="7.4" fill="#3f9fe2" fill-opacity="0.92"/>
<circle cx="1262.3" cy="285.4" r="7.4" fill="#f5a724" fill-opacity="0.92"/>
<circle cx="1270.8" cy="300.6" r="7.4" fill="#e02323" fill-opacity="0.92"/>
<circle cx="1306.6" cy="302.5" r="7.4" fill="#2e78d2" fill-opacity="0.92"/>
<circle cx="1298.8" cy="309.5" r="7.4" fill="#3380dc" fill-opacity="0.92"/>
<circle cx="1402.2" cy="295.5" r="7.4" fill="#3fcaa8" fill-opacity="0.92"/>
<circle cx="1419.3" cy="294.0" r="7.4" fill="#4dc47c" fill-opacity="0.92"/>
<circle cx="1409.2" cy="321.2" r="7.4" fill="#5fc45f" fill-opacity="0.92"/>
<circle cx="1210.7" cy="325.8" r="7.4" fill="#f59222" fill-opacity="0.92"/>
<circle cx="1220.3" cy="339.0" r="7.4" fill="#c8221e" fill-opacity="0.92"/>
<circle cx="1376.5" cy="344.5" r="7.4" fill="#c2d232" fill-opacity="0.92"/>
<circle cx="1321.4" cy="351.5" r="7.4" fill="#d8dc34" fill-opacity="0.92"/>
<circle cx="1270.0" cy="453.3" r="7.4" fill="#e2542b" fill-opacity="0.92"/>
<circle cx="1194.6" cy="461.0" r="7.4" fill="#e88c2a" fill-opacity="0.92"/>
<circle cx="1363.3" cy="452.5" r="7.4" fill="#d22c22" fill-opacity="0.92"/>
<circle cx="1536.6" cy="542.3" r="7.4" fill="#5b78c8" fill-opacity="0.92"/>
<path d="M1248,322.6 h6 v10.6 h8.3 v6 h-8.3 v10.6 h-6 v-10.6 h-8.3 v-6 h8.3z" fill="#d9c244" opacity="0.95"/>
<rect x="1298.5" y="550" width="163" height="18" fill="#0b0b0b"/>
<rect x="1466" y="550" width="87.5" height="18" fill="#0b0b0b"/>
<text x="1300.5" y="564.6" font-size="14.6" fill="#d9d6f0" font-family="Liberation Mono, monospace" font-weight="bold" textLength="131" lengthAdjust="spacingAndGlyphs">D:055 H:077 V:179</text>
<text x="1469" y="564.6" font-size="14.6" fill="#e6e8ee" font-family="Liberation Mono, monospace" font-weight="bold" textLength="81" lengthAdjust="spacingAndGlyphs">23:18:46:06</text>
</g>
<g fill="#1a1717">
<rect x="1238.0" y="220" width="4.3" height="386"/>
<rect x="1312.2" y="220" width="4.3" height="386"/>
<rect x="1386.8" y="220" width="4.3" height="386"/>
<rect x="1461.0" y="220" width="4.3" height="386"/>
<rect x="1535.2" y="220" width="4.3" height="386"/>
<rect x="1609.5" y="220" width="4.3" height="386"/>
<rect x="1166" y="283.2" width="520" height="4.3"/>
<rect x="1166" y="348.6" width="520" height="4.3"/>
<rect x="1166" y="413.9" width="520" height="4.3"/>
<rect x="1166" y="478.7" width="520" height="4.3"/>
<rect x="1166" y="544.0" width="520" height="4.3"/>
<rect x="1163.5" y="218.5" width="7" height="395"/>
<rect x="1682.7" y="218.5" width="6.3" height="395"/>
<rect x="1163.5" y="218.5" width="525.5" height="5.8"/>
<rect x="1163.5" y="603" width="525.5" height="10.5"/>
</g>
</g>
<g id="panel-c">
<text transform="translate(6.14 678.45) scale(0.6647 0.6596)" x="0" y="0" font-size="100" font-weight="bold" fill="#231f20" stroke="#231f20" stroke-width="1.4">c</text>
<rect x="178.3" y="773" width="46.8" height="697" fill="#dde1e3"/>
<rect x="466.2" y="773" width="46.8" height="354.5" fill="#dde1e3"/>
<g fill="none" stroke-linejoin="round" stroke-linecap="butt">
<path d="M167.6,952.3 C168.2,953.4 170.2,958.2 171.5,958.8 C172.7,959.3 175.3,955.6 175.3,955.6 C175.3,955.6 180.0,989.2 182.2,1001.7 C184.4,1014.2 186.8,1024.7 188.6,1030.6 C190.4,1036.5 192.9,1037.1 192.9,1037.1 C192.9,1037.1 197.6,958.8 197.6,958.8 C197.6,958.8 201.5,1121.8 201.5,1121.8" stroke="#4d63b0" stroke-width="3"/>
<path d="M203.6,1121.8 C203.6,1121.8 206.2,939.5 206.2,939.5 C206.2,939.5 211.6,947.0 214.4,950.2 C217.1,953.4 220.3,953.4 222.9,958.8 C225.6,964.1 230.4,982.4 230.4,982.4 C230.4,982.4 234.7,959.9 236.9,954.5 C239.0,949.1 243.3,950.2 243.3,950.2 C243.3,950.2 246.2,971.8 247.6,984.5 C249.0,997.2 251.9,1026.4 251.9,1026.4 C251.9,1026.4 255.1,1026.4 255.1,1026.4 C255.1,1026.4 263.7,1004.4 266.9,995.2 C270.1,986.1 272.3,975.6 274.4,971.7 C276.6,967.7 278.2,970.8 279.8,971.7 C281.4,972.5 282.6,973.8 284.1,977.0 C285.5,980.2 286.9,989.0 288.4,991.0 C289.8,992.9 290.5,987.0 292.7,988.8 C294.8,990.6 298.7,995.4 301.2,1001.7 C303.7,1007.9 305.0,1022.8 307.7,1026.4 C310.4,1029.9 314.3,1020.8 317.3,1023.1 C320.4,1025.5 323.9,1037.8 325.9,1040.3 C327.9,1042.8 327.2,1046.4 329.1,1038.2 C331.1,1029.9 335.0,999.7 337.7,991.0 C340.4,982.2 342.9,982.4 345.2,985.6 C347.5,988.8 349.9,1006.3 351.7,1010.3 C353.4,1014.2 354.2,1007.9 355.9,1009.2 C357.7,1010.4 360.2,1016.9 362.4,1017.8 C364.5,1018.7 366.7,1015.5 368.8,1014.6 C371.0,1013.7 372.7,1011.3 375.2,1012.4 C377.8,1013.5 381.4,1018.0 383.8,1021.0 C386.3,1024.0 388.1,1029.2 390.0,1030.6 C391.9,1032.1 393.8,1031.4 395.4,1029.6 C397.0,1027.8 398.3,1021.9 399.7,1019.9 C401.0,1018.0 401.9,1016.9 403.3,1017.8 C404.7,1018.7 406.6,1023.3 408.2,1025.3 C409.9,1027.2 411.6,1029.6 413.2,1029.6 C414.8,1029.6 416.4,1026.7 417.9,1025.3 C419.4,1023.9 420.6,1023.9 422.2,1021.0 C423.8,1018.1 426.1,1010.4 427.5,1008.1 C429.0,1005.8 429.3,1004.9 430.8,1007.0 C432.2,1009.2 434.3,1016.9 436.1,1021.0 C437.9,1025.1 439.7,1029.0 441.5,1031.7 C443.3,1034.4 445.1,1038.5 446.8,1037.1 C448.6,1035.7 450.2,1028.0 452.2,1023.1 C454.2,1018.3 456.7,1012.1 458.6,1008.1 C460.6,1004.2 462.5,1003.3 464.0,999.5 C465.5,995.8 466.4,986.3 467.9,985.6 C469.3,984.9 471.1,992.2 472.6,995.2 C474.1,998.3 475.5,1000.1 476.9,1003.8 C478.3,1007.6 479.9,1014.6 481.2,1017.8 C482.4,1021.0 483.3,1005.8 484.4,1023.1 C485.5,1040.5 487.6,1121.8 487.6,1121.8 C487.6,1121.8 494.0,1121.8 494.0,1121.8 C494.0,1121.8 496.3,1050.1 497.3,1027.4 C498.2,1004.7 499.8,985.6 499.8,985.6 C499.8,985.6 501.4,989.3 502.6,989.9 C503.8,990.4 505.5,991.1 506.9,988.8 C508.3,986.5 510.0,980.1 511.2,975.9 C512.4,971.8 512.9,965.9 514.0,964.1 C515.1,962.4 516.3,963.8 517.6,965.2 C519.0,966.6 520.1,970.4 521.9,972.7 C523.7,975.0 526.8,978.1 528.4,979.2 C530.0,980.2 530.3,980.1 531.6,979.2 C532.8,978.3 534.4,974.2 535.9,973.8 C537.3,973.4 538.9,976.5 540.2,977.0 C541.4,977.6 542.3,975.4 543.4,977.0 C544.5,978.6 545.4,983.1 546.6,986.7 C547.9,990.2 549.5,996.1 550.9,998.5 C552.3,1000.8 553.8,999.4 555.2,1000.6 C556.6,1001.9 557.3,1005.1 559.5,1006.0 C561.6,1006.9 565.9,1006.3 568.1,1006.0 C570.2,1005.6 571.0,1007.4 572.3,1003.8 C573.7,1000.3 576.2,984.5 576.2,984.5 C576.2,984.5 577.9,1021.0 578.8,1038.2 C579.6,1055.3 581.4,1087.5 581.4,1087.5 C581.4,1087.5 585.6,1087.1 587.4,1084.3 C589.1,1081.4 590.2,1076.2 591.7,1070.3 C593.1,1064.4 594.3,1056.0 595.9,1048.9 C597.6,1041.7 599.7,1031.7 601.3,1027.4 C602.9,1023.1 604.0,1026.4 605.6,1023.1 C607.2,1019.9 609.3,1011.3 611.0,1008.1 C612.6,1004.9 614.0,1007.0 615.2,1003.8 C616.5,1000.6 617.5,991.9 618.5,988.8 C619.5,985.8 620.4,985.2 621.3,985.6 C622.1,986.0 623.0,984.0 623.8,991.0 C624.6,997.9 626.0,1027.4 626.0,1027.4 C626.0,1027.4 627.2,1017.1 628.1,1014.6 C629.0,1012.1 631.3,1012.4 631.3,1012.4 C631.3,1012.4 632.8,1031.0 633.5,1038.2 C634.2,1045.3 635.3,1052.5 635.6,1055.3" stroke="#4d63b0" stroke-width="3"/>
<path d="M167.6,816.1 C168.2,817.8 170.2,824.9 171.5,826.2 C172.7,827.5 175.3,824.1 175.3,824.1 C175.3,824.1 179.6,850.4 179.6,850.4 C179.6,850.4 186.0,806.0 186.0,806.0 C186.0,806.0 190.5,819.3 192.5,833.3 C194.4,847.3 197.6,890.1 197.6,890.1 C197.6,890.1 199.8,886.9 199.8,886.9 C199.8,886.9 201.1,1121.8 201.1,1121.8 C201.1,1121.8 204.1,1121.8 204.1,1121.8 C204.1,1121.8 205.3,865.5 205.3,865.5 C205.3,865.5 207.1,865.6 209.0,870.8 C210.9,876.0 214.2,889.1 216.5,896.6 C218.8,904.1 220.8,909.4 222.9,915.9 C225.1,922.3 229.4,935.2 229.4,935.2 C229.4,935.2 233.5,900.5 235.8,890.1 C238.1,879.8 243.3,873.0 243.3,873.0 C243.3,873.0 246.9,893.9 248.7,903.0 C250.5,912.1 252.3,923.6 254.0,927.7 C255.8,931.8 257.3,929.6 259.4,927.7 C261.6,925.7 264.3,925.7 266.9,915.9 C269.5,906.0 274.9,868.7 274.9,868.7 C274.9,868.7 278.7,872.5 278.7,872.5 C278.7,872.5 285.1,837.6 285.1,837.6 C285.1,837.6 289.1,852.1 291.6,860.1 C294.1,868.1 297.3,881.4 300.2,885.8 C303.0,890.3 305.9,887.3 308.7,886.9 C311.6,886.5 317.3,883.3 317.3,883.3 C317.3,883.3 323.8,953.4 323.8,953.4 C323.8,953.4 331.3,909.4 331.3,909.4 C331.3,909.4 336.5,925.5 338.8,928.7 C341.0,932.0 344.8,928.7 344.8,928.7 C344.8,928.7 352.7,991.0 352.7,991.0 C352.7,991.0 356.4,991.0 356.4,991.0 C356.4,991.0 360.3,966.6 362.4,956.6 C364.5,946.6 366.3,942.2 368.8,930.9 C371.3,919.6 377.4,889.1 377.4,889.1 C377.4,889.1 382.8,909.4 384.9,918.0 C387.0,926.6 388.6,937.0 390.0,940.5 C391.4,944.1 391.8,943.2 393.2,939.5 C394.6,935.7 396.9,925.0 398.6,918.0 C400.3,911.0 401.7,898.7 403.3,897.6 C404.9,896.6 406.5,907.3 408.2,911.6 C410.0,915.9 411.8,920.5 413.6,923.4 C415.4,926.2 417.2,929.6 419.0,928.7 C420.7,927.9 422.5,923.9 424.3,918.0 C426.1,912.1 428.2,899.6 429.7,893.4 C431.2,887.1 431.9,879.2 433.3,880.5 C434.8,881.7 436.6,893.9 438.3,900.9 C440.0,907.8 442.0,917.8 443.6,922.3 C445.2,926.8 446.3,928.7 447.9,927.7 C449.5,926.6 451.5,921.8 453.3,915.9 C455.1,910.0 456.9,899.8 458.6,892.3 C460.4,884.8 462.4,878.0 464.0,870.8 C465.6,863.6 466.9,850.4 468.3,848.9 C469.7,847.5 471.0,855.4 472.6,862.2 C474.2,869.1 476.4,880.8 478.0,890.1 C479.5,899.4 480.8,913.2 481.8,918.0 C482.8,922.8 483.2,921.1 484.0,919.1 C484.7,917.1 486.1,906.2 486.1,906.2 C486.1,906.2 487.6,1121.8 487.6,1121.8 C487.6,1121.8 491.9,1121.8 491.9,1121.8 C491.9,1121.8 494.0,821.5 494.0,821.5 C494.0,821.5 494.9,843.7 495.5,849.4 C496.2,855.1 497.1,852.4 497.9,855.8 C498.7,859.2 499.2,867.3 500.5,869.8 C501.8,872.3 504.1,871.9 505.8,870.8 C507.6,869.8 509.8,862.6 511.2,863.3 C512.6,864.0 513.2,868.5 514.4,875.1 C515.7,881.7 517.2,896.6 518.7,903.0 C520.2,909.4 521.8,913.7 523.4,913.7 C525.0,913.7 526.7,908.4 528.4,903.0 C530.1,897.6 531.9,888.0 533.7,881.6 C535.5,875.1 537.4,868.3 539.1,864.4 C540.8,860.5 542.4,856.5 544.0,858.0 C545.6,859.4 547.1,867.3 548.7,873.0 C550.4,878.7 552.3,887.3 554.1,892.3 C555.9,897.3 557.7,901.0 559.5,903.0 C561.3,905.0 563.0,906.2 564.8,904.1 C566.6,901.9 568.5,897.5 570.2,890.1 C571.9,882.8 573.5,870.3 574.9,860.1 C576.3,849.9 577.6,834.4 578.8,829.0 C580.0,823.6 580.9,824.5 582.0,827.9 C583.1,831.3 584.5,843.3 585.6,849.4 C586.8,855.5 588.0,861.9 589.1,864.4 C590.2,866.9 591.0,866.5 592.1,864.4 C593.1,862.2 595.3,851.5 595.3,851.5 C595.3,851.5 597.1,877.1 598.1,890.1 C599.1,903.2 601.3,929.8 601.3,929.8 C601.3,929.8 605.6,904.1 605.6,904.1 C605.6,904.1 607.5,916.1 608.8,933.0 C610.1,950.0 612.1,992.7 613.5,1006.0 C615.0,1019.2 616.0,1009.4 617.4,1012.4 C618.8,1015.5 620.3,1024.6 621.7,1024.2 C623.1,1023.9 626.0,1010.3 626.0,1010.3 C626.0,1010.3 628.1,1030.5 629.2,1038.2 C630.3,1045.8 631.3,1053.9 632.4,1056.4 C633.5,1058.9 635.1,1053.7 635.6,1053.2" stroke="#e8492c" stroke-width="2.2"/>
<path d="M202.7,900 V1126.5" stroke="#e2604a" stroke-width="5.6"/>
<path d="M167.6,1256.6 L169.3,1256.6 L171.5,1266.2 L174.7,1263.0 L177.9,1257.6 L181.1,1254.4 L184.3,1254.0 L186.5,1258.7 L189.7,1256.6 L191.8,1256.6 L193.5,1303.8 L196.1,1293.0 L197.6,1299.5 L199.8,1263.0 L200.8,1468.9 L202.1,1468.9 L204.1,1202.9 L205.3,1323.1 L207.5,1312.3 L210.1,1300.5 L212.2,1315.6 L215.4,1314.5 L218.2,1319.9 L219.1,1307.0 L221.9,1299.5 L224.0,1293.0 L225.5,1282.3 L228.3,1289.8 L230.4,1288.7 L234.7,1297.3 L236.9,1297.3 L240.1,1288.7 L242.2,1286.6 L245.5,1259.8 L248.7,1263.0 L251.3,1259.8 L254.0,1268.4 L257.3,1271.6 L259.4,1276.9 L262.6,1290.9 L265.8,1290.9 L268.4,1297.3 L271.2,1285.5 L274.0,1279.1 L276.6,1287.7 L278.7,1297.3 L280.9,1270.5 L285.1,1263.4 L288.4,1271.6 L291.2,1283.4 L293.7,1279.1 L296.3,1290.9 L299.1,1283.4 L302.3,1278.0 L304.9,1268.4 L306.6,1273.7 L309.2,1266.2 L313.0,1272.7 L316.9,1281.2 L320.5,1266.2 L323.8,1272.7 L326.3,1276.9 L328.5,1272.7 L331.3,1284.5 L333.4,1297.3 L335.6,1301.6 L338.8,1323.1 L341.6,1301.6 L343.1,1300.5 L345.2,1316.6 L347.4,1280.2 L349.9,1279.1 L352.1,1287.7 L355.9,1282.3 L359.2,1288.7 L361.3,1299.5 L364.5,1300.5 L366.7,1292.0 L369.9,1282.3 L374.2,1275.9 L378.5,1272.7 L381.7,1275.9 L383.8,1284.5 L387.0,1276.9 L390.0,1278.0 L393.2,1275.9 L396.4,1272.7 L399.7,1273.3 L402.9,1275.9 L406.1,1279.1 L409.3,1278.0 L412.5,1280.2 L415.7,1279.1 L419.0,1284.5 L422.2,1288.7 L423.9,1280.2 L425.4,1288.7 L427.5,1279.1 L430.8,1278.0 L434.0,1272.7 L436.1,1271.6 L439.3,1278.0 L442.6,1266.2 L445.3,1265.1 L447.9,1266.2 L450.5,1284.5 L452.6,1273.7 L455.4,1275.9 L457.6,1281.2 L460.8,1278.0 L464.0,1273.7 L467.7,1266.2 L470.4,1271.6 L473.7,1271.6 L476.9,1275.9 L480.1,1278.0 L482.7,1297.3 L484.8,1297.3 L487.0,1269.4 L489.8,1271.6 L492.5,1266.2 L495.1,1266.2 L497.3,1278.0 L499.8,1284.5 L502.6,1281.2 L504.8,1286.6 L506.9,1275.9 L509.1,1276.9 L511.2,1297.3 L513.4,1304.8 L515.5,1305.9 L517.6,1316.6 L519.8,1319.9 L521.9,1308.1 L524.1,1303.8 L527.3,1293.0 L530.5,1290.9 L532.7,1283.4 L534.8,1290.9 L536.9,1280.2 L540.2,1278.0 L542.7,1275.9 L545.5,1276.9 L548.7,1284.5 L550.9,1287.7 L554.1,1280.2 L557.3,1278.0 L560.5,1275.9 L563.8,1276.9 L567.0,1266.2 L570.2,1269.4 L573.4,1258.7 L576.6,1250.1 L579.9,1260.9 L583.1,1267.3 L586.3,1273.7 L589.5,1270.5 L592.7,1269.4 L595.5,1266.2 L599.2,1273.7 L602.4,1266.2 L605.6,1272.7 L608.4,1273.7 L611.0,1287.7 L613.5,1288.7 L615.7,1284.5 L617.8,1294.1 L622.8,1294.8 L624.9,1282.3 L628.1,1285.5 L630.3,1288.7 L633.5,1282.3 L635.6,1278.5" stroke="#231f20" stroke-width="2.1"/>
</g>
<g stroke="#231f20" stroke-width="2.3" fill="none">
<path d="M167.5,803.5 V1121 M166.5,1120.5 H635.5"/>
<path d="M161,831 H167.5"/>
<path d="M161,976 H167.5"/>
<path d="M161,1120.5 H167.5"/>
<path d="M167.5,1120.5 V1126.5"/>
<path d="M396.8,1120.5 V1126.5"/>
<path d="M626.2,1120.5 V1126.5"/>
<path d="M167.5,1155 V1471 M166.5,1470.3 H635.5"/>
<path d="M161,1155.8 H167.5"/>
<path d="M161,1313 H167.5"/>
<path d="M161,1470.3 H167.5"/>
<path d="M167.5,1470.3 V1476.5"/>
<path d="M396.8,1470.3 V1476.5"/>
<path d="M626.2,1470.3 V1476.5"/>
</g>
<text x="91.5" y="831.0" font-size="37.2" text-anchor="start" fill="#231f20" font-weight="normal"  stroke="#231f20" stroke-width="0.5">400</text>
<text x="91.5" y="975.2" font-size="37.2" text-anchor="start" fill="#231f20" font-weight="normal"  stroke="#231f20" stroke-width="0.5">200</text>
<text x="132.8" y="1120.5" font-size="37.2" text-anchor="start" fill="#231f20" font-weight="normal"  stroke="#231f20" stroke-width="0.5">0</text>
<text x="91.5" y="1155.5" font-size="37.2" text-anchor="start" fill="#231f20" font-weight="normal"  stroke="#231f20" stroke-width="0.5">100</text>
<text x="112.1" y="1312.8" font-size="37.2" text-anchor="start" fill="#231f20" font-weight="normal"  stroke="#231f20" stroke-width="0.5">50</text>
<text x="132.8" y="1470.5" font-size="37.2" text-anchor="start" fill="#231f20" font-weight="normal"  stroke="#231f20" stroke-width="0.5">0</text>
<text x="156.2" y="1514.0" font-size="37.2" text-anchor="start" fill="#231f20" font-weight="normal"  stroke="#231f20" stroke-width="0.5">0</text>
<text x="385.5" y="1514.0" font-size="37.2" text-anchor="start" fill="#231f20" font-weight="normal"  stroke="#231f20" stroke-width="0.5">5</text>
<text x="603.5" y="1514.0" font-size="37.2" text-anchor="start" fill="#231f20" font-weight="normal"  stroke="#231f20" stroke-width="0.5">10</text>
<text x="316.1" y="1557.7" font-size="36.5" text-anchor="start" fill="#231f20" font-weight="normal"  stroke="#231f20" stroke-width="0.5">Time (sec)</text>
<text x="64.4" y="1119.6" font-size="37.4" text-anchor="start" fill="#231f20" font-weight="normal" transform="rotate(-90 64.4 1119.6)"  stroke="#231f20" stroke-width="0.5">Eye position (a.u.)</text>
<text x="64.4" y="1498.7" font-size="37.4" text-anchor="start" fill="#231f20" font-weight="normal" transform="rotate(-90 64.4 1498.7)"  stroke="#231f20" stroke-width="0.5">Pupil diameter (a.u.)</text>
<text x="422.0" y="1366.6" font-size="33.33" text-anchor="start" fill="#2e5aac" font-weight="normal"  stroke="#2e5aac" stroke-width="0.5">eyeX</text>
<text x="422.0" y="1406.4" font-size="33.33" text-anchor="start" fill="#e8502f" font-weight="normal"  stroke="#e8502f" stroke-width="0.5">eyeY</text>
<text x="422.7" y="1445.9" font-size="33.33" text-anchor="start" fill="#231f20" font-weight="normal"  stroke="#231f20" stroke-width="0.5">pupil diameter</text>
</g>
<g id="panel-d">
<text transform="translate(685.63 677.88) scale(0.6763 0.64)" x="0" y="0" font-size="100" font-weight="bold" fill="#231f20" stroke="#231f20" stroke-width="1.4">d</text>
<g stroke="#231f20" stroke-width="2.4" fill="none">
<path d="M929.2,656 V953.3 M917,952.1 H1679.6"/>
<path d="M917,686.4 H929.2"/>
<path d="M917,755.4 H929.2"/>
<path d="M917,821 H929.2"/>
<path d="M917,886.2 H929.2"/>
<path d="M936.3,952.1 V960.3"/>
<path d="M1120.7,952.1 V960.3"/>
<path d="M1305.1,952.1 V960.3"/>
<path d="M1489.5,952.1 V960.3"/>
<path d="M1673.9,952.1 V960.3"/>
</g>
<rect x="958.0" y="666.3" width="29.6" height="287.1" fill="#ed1c24"/>
<rect x="994.9" y="771.8" width="29.6" height="181.6" fill="#ed1c24"/>
<rect x="1031.7" y="776.4" width="29.6" height="177.0" fill="#ed1c24"/>
<rect x="1068.6" y="809.0" width="29.6" height="144.4" fill="#ed1c24"/>
<rect x="1105.5" y="839.0" width="29.6" height="114.4" fill="#ed1c24"/>
<rect x="1142.4" y="844.0" width="29.6" height="109.4" fill="#ed1c24"/>
<rect x="1179.3" y="848.2" width="29.6" height="105.2" fill="#ed1c24"/>
<rect x="1216.1" y="856.8" width="29.6" height="96.6" fill="#ed1c24"/>
<rect x="1253.0" y="859.2" width="29.6" height="94.2" fill="#ed1c24"/>
<rect x="1289.9" y="879.4" width="29.6" height="74.0" fill="#ed1c24"/>
<rect x="1326.8" y="880.6" width="29.6" height="72.8" fill="#ed1c24"/>
<rect x="1363.7" y="882.4" width="29.6" height="71.0" fill="#ed1c24"/>
<rect x="1400.5" y="888.6" width="29.6" height="64.8" fill="#ed1c24"/>
<rect x="1437.4" y="911.2" width="29.6" height="42.2" fill="#ed1c24"/>
<rect x="1474.3" y="925.8" width="29.6" height="27.6" fill="#ed1c24"/>
<rect x="1511.2" y="927.0" width="29.6" height="26.4" fill="#ed1c24"/>
<rect x="1548.1" y="933.8" width="29.6" height="19.6" fill="#ed1c24"/>
<rect x="1584.9" y="950.6" width="29.6" height="2.4" fill="#ef7a6a"/>
<rect x="1621.8" y="950.6" width="29.6" height="2.4" fill="#ef7a6a"/>
<text x="800.5" y="686.2" font-size="37.2" text-anchor="start" fill="#231f20" font-weight="normal"  stroke="#231f20" stroke-width="0.5">80,000</text>
<text x="800.5" y="755.4" font-size="37.2" text-anchor="start" fill="#231f20" font-weight="normal"  stroke="#231f20" stroke-width="0.5">60,000</text>
<text x="800.5" y="821.0" font-size="37.2" text-anchor="start" fill="#231f20" font-weight="normal"  stroke="#231f20" stroke-width="0.5">40,000</text>
<text x="800.5" y="886.2" font-size="37.2" text-anchor="start" fill="#231f20" font-weight="normal"  stroke="#231f20" stroke-width="0.5">20,000</text>
<text x="893.8" y="951.8" font-size="37.2" text-anchor="start" fill="#231f20" font-weight="normal"  stroke="#231f20" stroke-width="0.5">0</text>
<text x="1111.8" y="989.6" font-size="37.2" text-anchor="start" fill="#231f20" font-weight="normal"  stroke="#231f20" stroke-width="0.5">5</text>
<text x="1287.1" y="989.6" font-size="37.2" text-anchor="start" fill="#231f20" font-weight="normal"  stroke="#231f20" stroke-width="0.5">10</text>
<text x="1471.4" y="989.6" font-size="37.2" text-anchor="start" fill="#231f20" font-weight="normal"  stroke="#231f20" stroke-width="0.5">15</text>
<text x="1654.8" y="989.6" font-size="37.2" text-anchor="start" fill="#231f20" font-weight="normal"  stroke="#231f20" stroke-width="0.5">20</text>
<text x="771.8" y="1109.8" font-size="37.4" text-anchor="start" fill="#231f20" font-weight="normal" transform="rotate(-90 771.8 1109.8)"  stroke="#231f20" stroke-width="0.5">Numbe of labeled objects</text>
<text x="853.6" y="1026.0" font-size="33.33" text-anchor="start" fill="#231f20" font-weight="normal"  stroke="#231f20" stroke-width="0.5">crosshair</text>
<text x="854.0" y="1066.2" font-size="33.33" text-anchor="start" fill="#231f20" font-weight="normal"  stroke="#231f20" stroke-width="0.5">selfButton</text>
<text x="852.9" y="1105.8" font-size="33.33" text-anchor="start" fill="#231f20" font-weight="normal"  stroke="#231f20" stroke-width="0.5">partnerButton</text>
<text x="852.8" y="1146.0" font-size="33.33" text-anchor="start" fill="#231f20" font-weight="normal"  stroke="#231f20" stroke-width="0.5">rewDispenser</text>
<text x="852.9" y="1185.6" font-size="33.33" text-anchor="start" fill="#231f20" font-weight="normal"  stroke="#231f20" stroke-width="0.5">partnerTopBack</text>
<text x="1108.2" y="1026.0" font-size="33.33" text-anchor="start" fill="#231f20" font-weight="normal"  stroke="#231f20" stroke-width="0.5">rewTray</text>
<text x="1108.4" y="1066.2" font-size="33.33" text-anchor="start" fill="#231f20" font-weight="normal"  stroke="#231f20" stroke-width="0.5">partShoulder</text>
<text x="1108.4" y="1105.8" font-size="33.33" text-anchor="start" fill="#231f20" font-weight="normal"  stroke="#231f20" stroke-width="0.5">partArm</text>
<text x="1108.4" y="1146.0" font-size="33.33" text-anchor="start" fill="#231f20" font-weight="normal"  stroke="#231f20" stroke-width="0.5">partLowBack</text>
<text x="1108.4" y="1185.6" font-size="33.33" text-anchor="start" fill="#231f20" font-weight="normal"  stroke="#231f20" stroke-width="0.5">partLeg</text>
<text x="1325.7" y="1026.0" font-size="33.33" text-anchor="start" fill="#231f20" font-weight="normal"  stroke="#231f20" stroke-width="0.5">partMidBack</text>
<text x="1325.7" y="1066.2" font-size="33.33" text-anchor="start" fill="#231f20" font-weight="normal"  stroke="#231f20" stroke-width="0.5">partHead</text>
<text x="1325.7" y="1105.8" font-size="33.33" text-anchor="start" fill="#231f20" font-weight="normal"  stroke="#231f20" stroke-width="0.5">partCollar</text>
<text x="1325.7" y="1146.0" font-size="33.33" text-anchor="start" fill="#231f20" font-weight="normal"  stroke="#231f20" stroke-width="0.5">partPaw</text>
<text x="1325.7" y="1185.6" font-size="33.33" text-anchor="start" fill="#231f20" font-weight="normal"  stroke="#231f20" stroke-width="0.5">partNose</text>
<text x="1534.9" y="1026.0" font-size="33.33" text-anchor="start" fill="#231f20" font-weight="normal"  stroke="#231f20" stroke-width="0.5">partRCheek</text>
<text x="1534.9" y="1066.2" font-size="33.33" text-anchor="start" fill="#231f20" font-weight="normal"  stroke="#231f20" stroke-width="0.5">partMouth</text>
<text x="1534.9" y="1105.8" font-size="33.33" text-anchor="start" fill="#231f20" font-weight="normal"  stroke="#231f20" stroke-width="0.5">partREye</text>
<text x="1534.9" y="1146.0" font-size="33.33" text-anchor="start" fill="#231f20" font-weight="normal"  stroke="#231f20" stroke-width="0.5">partButt</text>
</g>
<g id="panel-e">
<text transform="translate(689.07 1275.85) scale(0.6854 0.6578)" x="0" y="0" font-size="100" font-weight="bold" fill="#231f20" stroke="#231f20" stroke-width="1.4">e</text>
<g stroke="#231f20" stroke-width="2.4" fill="none">
<path d="M901.5,1340.6 V1594.2 M897.3,1593 H1129"/>
<path d="M897.3,1341.8 H901.5"/>
<path d="M897.3,1392.6 H901.5"/>
<path d="M897.3,1442.7 H901.5"/>
<path d="M897.3,1492.8 H901.5"/>
<path d="M897.3,1543 H901.5"/>
</g>
<rect x="925.5" y="1384.3" width="81.1" height="210.0" fill="#6875c1"/>
<rect x="1022.9" y="1472" width="80.8" height="122.3" fill="#6875c1"/>
<circle cx="933.8" cy="1362.6" r="6.2" fill="#4c68c2" fill-opacity="0.8" stroke="#4a63b8" stroke-opacity="0.5" stroke-width="0.8"/>
<circle cx="939.6" cy="1366.4" r="6.2" fill="#4c68c2" fill-opacity="0.8" stroke="#4a63b8" stroke-opacity="0.5" stroke-width="0.8"/>
<circle cx="944.1" cy="1368.3" r="6.2" fill="#4c68c2" fill-opacity="0.8" stroke="#4a63b8" stroke-opacity="0.5" stroke-width="0.8"/>
<circle cx="953.0" cy="1364.5" r="6.2" fill="#4c68c2" fill-opacity="0.8" stroke="#4a63b8" stroke-opacity="0.5" stroke-width="0.8"/>
<circle cx="954.9" cy="1372.1" r="6.2" fill="#4c68c2" fill-opacity="0.8" stroke="#4a63b8" stroke-opacity="0.5" stroke-width="0.8"/>
<circle cx="969.0" cy="1367.0" r="6.2" fill="#4c68c2" fill-opacity="0.8" stroke="#4a63b8" stroke-opacity="0.5" stroke-width="0.8"/>
<circle cx="969.6" cy="1377.3" r="6.2" fill="#4c68c2" fill-opacity="0.8" stroke="#4a63b8" stroke-opacity="0.5" stroke-width="0.8"/>
<circle cx="938.3" cy="1381.1" r="6.2" fill="#4c68c2" fill-opacity="0.8" stroke="#4a63b8" stroke-opacity="0.5" stroke-width="0.8"/>
<circle cx="954.3" cy="1386.8" r="6.2" fill="#4c68c2" fill-opacity="0.8" stroke="#4a63b8" stroke-opacity="0.5" stroke-width="0.8"/>
<circle cx="965.1" cy="1396.4" r="6.2" fill="#4c68c2" fill-opacity="0.8" stroke="#4a63b8" stroke-opacity="0.5" stroke-width="0.8"/>
<circle cx="966.4" cy="1406.6" r="6.2" fill="#4c68c2" fill-opacity="0.8" stroke="#4a63b8" stroke-opacity="0.5" stroke-width="0.8"/>
<circle cx="988.8" cy="1407.3" r="6.2" fill="#4c68c2" fill-opacity="0.8" stroke="#4a63b8" stroke-opacity="0.5" stroke-width="0.8"/>
<circle cx="996.4" cy="1387.5" r="6.2" fill="#4c68c2" fill-opacity="0.8" stroke="#4a63b8" stroke-opacity="0.5" stroke-width="0.8"/>
<circle cx="998.3" cy="1391.3" r="6.2" fill="#4c68c2" fill-opacity="0.8" stroke="#4a63b8" stroke-opacity="0.5" stroke-width="0.8"/>
<circle cx="974.3" cy="1454.9" r="6.2" fill="#4c68c2" fill-opacity="0.8" stroke="#4a63b8" stroke-opacity="0.5" stroke-width="0.8"/>
<circle cx="1042.8" cy="1452.3" r="6.2" fill="#4c68c2" fill-opacity="0.8" stroke="#4a63b8" stroke-opacity="0.5" stroke-width="0.8"/>
<circle cx="1062.8" cy="1450.1" r="6.2" fill="#4c68c2" fill-opacity="0.8" stroke="#4a63b8" stroke-opacity="0.5" stroke-width="0.8"/>
<circle cx="1069.9" cy="1448.1" r="6.2" fill="#4c68c2" fill-opacity="0.8" stroke="#4a63b8" stroke-opacity="0.5" stroke-width="0.8"/>
<circle cx="1069.2" cy="1456.4" r="6.2" fill="#4c68c2" fill-opacity="0.8" stroke="#4a63b8" stroke-opacity="0.5" stroke-width="0.8"/>
<circle cx="1090.3" cy="1455.2" r="6.2" fill="#4c68c2" fill-opacity="0.8" stroke="#4a63b8" stroke-opacity="0.5" stroke-width="0.8"/>
<circle cx="1055.2" cy="1467.9" r="6.2" fill="#4c68c2" fill-opacity="0.8" stroke="#4a63b8" stroke-opacity="0.5" stroke-width="0.8"/>
<circle cx="1087.7" cy="1466.7" r="6.2" fill="#4c68c2" fill-opacity="0.8" stroke="#4a63b8" stroke-opacity="0.5" stroke-width="0.8"/>
<circle cx="1083.3" cy="1470.5" r="6.2" fill="#4c68c2" fill-opacity="0.8" stroke="#4a63b8" stroke-opacity="0.5" stroke-width="0.8"/>
<circle cx="1046.9" cy="1479.4" r="6.2" fill="#4c68c2" fill-opacity="0.8" stroke="#4a63b8" stroke-opacity="0.5" stroke-width="0.8"/>
<circle cx="1085.2" cy="1479.4" r="6.2" fill="#4c68c2" fill-opacity="0.8" stroke="#4a63b8" stroke-opacity="0.5" stroke-width="0.8"/>
<circle cx="1087.1" cy="1483.3" r="6.2" fill="#4c68c2" fill-opacity="0.8" stroke="#4a63b8" stroke-opacity="0.5" stroke-width="0.8"/>
<circle cx="1083.9" cy="1488.4" r="6.2" fill="#4c68c2" fill-opacity="0.8" stroke="#4a63b8" stroke-opacity="0.5" stroke-width="0.8"/>
<circle cx="1034.1" cy="1494.8" r="6.2" fill="#4c68c2" fill-opacity="0.8" stroke="#4a63b8" stroke-opacity="0.5" stroke-width="0.8"/>
<circle cx="1058.4" cy="1527.7" r="6.2" fill="#4c68c2" fill-opacity="0.8" stroke="#4a63b8" stroke-opacity="0.5" stroke-width="0.8"/>
<rect x="963.8" y="1379.2" width="4" height="9.6" fill="#0a0a0a"/>
<rect x="1060.8" y="1467.6" width="4.2" height="9.4" fill="#0a0a0a"/>
<text x="834.7" y="1341.6" font-size="37.2" text-anchor="start" fill="#231f20" font-weight="normal"  stroke="#231f20" stroke-width="0.5">100</text>
<text x="855.3" y="1392.4" font-size="37.2" text-anchor="start" fill="#231f20" font-weight="normal"  stroke="#231f20" stroke-width="0.5">80</text>
<text x="855.3" y="1442.5" font-size="37.2" text-anchor="start" fill="#231f20" font-weight="normal"  stroke="#231f20" stroke-width="0.5">60</text>
<text x="855.3" y="1492.6" font-size="37.2" text-anchor="start" fill="#231f20" font-weight="normal"  stroke="#231f20" stroke-width="0.5">40</text>
<text x="855.3" y="1542.8" font-size="37.2" text-anchor="start" fill="#231f20" font-weight="normal"  stroke="#231f20" stroke-width="0.5">20</text>
<text x="876.0" y="1592.8" font-size="37.2" text-anchor="start" fill="#231f20" font-weight="normal"  stroke="#231f20" stroke-width="0.5">0</text>
<text x="944.0" y="1629.8" font-size="31.4" text-anchor="start" fill="#231f20" font-weight="normal"  stroke="#231f20" stroke-width="0.5">M1</text>
<text x="1041.0" y="1629.8" font-size="31.4" text-anchor="start" fill="#231f20" font-weight="normal"  stroke="#231f20" stroke-width="0.5">M2</text>
<text x="775.0" y="1630.5" font-size="37.4" text-anchor="start" fill="#231f20" font-weight="normal" transform="rotate(-90 775.0 1630.5)"  stroke="#231f20" stroke-width="0.5">Scene camera frames</text>
<text x="820.4" y="1590.8" font-size="37.4" text-anchor="start" fill="#231f20" font-weight="normal" transform="rotate(-90 820.4 1590.8)"  stroke="#231f20" stroke-width="0.5">with crosshair (%)</text>
</g>
<g id="panel-f">
<text transform="translate(1145.07 1275.31) scale(0.7278 0.6595)" x="0" y="0" font-size="100" font-weight="bold" fill="#231f20" stroke="#231f20" stroke-width="1.4">f</text>
<rect x="1338.60" y="1313.6" width="17.40" height="275.0" fill="#7d88ca" stroke="#5f6fba" stroke-width="1"/>
<rect x="1356.00" y="1418.7" width="17.40" height="169.9" fill="#7d88ca" stroke="#5f6fba" stroke-width="1"/>
<rect x="1373.40" y="1390.7" width="17.40" height="197.9" fill="#7d88ca" stroke="#5f6fba" stroke-width="1"/>
<rect x="1390.80" y="1492.8" width="17.40" height="95.8" fill="#7d88ca" stroke="#5f6fba" stroke-width="1"/>
<rect x="1408.20" y="1558.2" width="17.40" height="30.4" fill="#7d88ca" stroke="#5f6fba" stroke-width="1"/>
<rect x="1425.60" y="1544.5" width="17.40" height="44.1" fill="#7d88ca" stroke="#5f6fba" stroke-width="1"/>
<rect x="1443.00" y="1574.5" width="17.40" height="14.1" fill="#7d88ca" stroke="#5f6fba" stroke-width="1"/>
<rect x="1460.40" y="1568.0" width="17.40" height="20.6" fill="#7d88ca" stroke="#5f6fba" stroke-width="1"/>
<rect x="1477.80" y="1574.1" width="17.40" height="14.5" fill="#7d88ca" stroke="#5f6fba" stroke-width="1"/>
<rect x="1495.20" y="1582.3" width="17.40" height="6.3" fill="#7d88ca" stroke="#5f6fba" stroke-width="1"/>
<rect x="1512.60" y="1577.6" width="17.40" height="11.0" fill="#7d88ca" stroke="#5f6fba" stroke-width="1"/>
<rect x="1530.00" y="1581.2" width="17.40" height="7.4" fill="#7d88ca" stroke="#5f6fba" stroke-width="1"/>
<rect x="1547.40" y="1585.0" width="17.40" height="3.6" fill="#7d88ca" stroke="#5f6fba" stroke-width="1"/>
<rect x="1564.80" y="1584.0" width="17.40" height="4.6" fill="#7d88ca" stroke="#5f6fba" stroke-width="1"/>
<rect x="1582.20" y="1585.5" width="17.40" height="3.1" fill="#7d88ca" stroke="#5f6fba" stroke-width="1"/>
<rect x="1599.60" y="1584.0" width="17.40" height="4.6" fill="#7d88ca" stroke="#5f6fba" stroke-width="1"/>
<rect x="1617.00" y="1585.0" width="17.40" height="3.6" fill="#7d88ca" stroke="#5f6fba" stroke-width="1"/>
<rect x="1634.40" y="1587.0" width="17.40" height="1.6" fill="#7d88ca" stroke="#5f6fba" stroke-width="1"/>
<rect x="1651.80" y="1584.5" width="17.40" height="4.1" fill="#7d88ca" stroke="#5f6fba" stroke-width="1"/>
<rect x="1669.20" y="1585.0" width="17.40" height="3.6" fill="#7d88ca" stroke="#5f6fba" stroke-width="1"/>
<rect x="1686.60" y="1587.8" width="17.40" height="0.8" fill="#7d88ca" stroke="#5f6fba" stroke-width="1"/>
<rect x="1704.00" y="1586.5" width="9.20" height="2.1" fill="#7d88ca" stroke="#5f6fba" stroke-width="1"/>
<g stroke="#231f20" stroke-width="2.6" fill="none">
<path d="M1323.3,1285 V1590 M1322,1588.7 H1714"/>
<path d="M1317.3,1286.3 H1323.3"/>
<path d="M1317.3,1362.9 H1323.3"/>
<path d="M1317.3,1438 H1323.3"/>
<path d="M1317.3,1513.5 H1323.3"/>
<path d="M1323.0,1588.7 V1594.2"/>
<path d="M1388.0,1588.7 V1594.2"/>
<path d="M1453.0,1588.7 V1594.2"/>
<path d="M1518.0,1588.7 V1594.2"/>
<path d="M1583.0,1588.7 V1594.2"/>
<path d="M1648.0,1588.7 V1594.2"/>
<path d="M1713.0,1588.7 V1594.2"/>
</g>
<text x="1230.5" y="1286.4" font-size="37" text-anchor="start" fill="#231f20" font-weight="normal"  stroke="#231f20" stroke-width="0.5">4000</text>
<text x="1230.5" y="1362.4" font-size="37" text-anchor="start" fill="#231f20" font-weight="normal"  stroke="#231f20" stroke-width="0.5">3000</text>
<text x="1230.5" y="1437.8" font-size="37" text-anchor="start" fill="#231f20" font-weight="normal"  stroke="#231f20" stroke-width="0.5">2000</text>
<text x="1230.5" y="1513.3" font-size="37" text-anchor="start" fill="#231f20" font-weight="normal"  stroke="#231f20" stroke-width="0.5">1000</text>
<text x="1292.3" y="1588.6" font-size="37" text-anchor="start" fill="#231f20" font-weight="normal"  stroke="#231f20" stroke-width="0.5">0</text>
<text x="1312.5" y="1628.0" font-size="37" text-anchor="start" fill="#231f20" font-weight="normal"  stroke="#231f20" stroke-width="0.5">0</text>
<text x="1351.1" y="1628.0" font-size="37" text-anchor="start" fill="#231f20" font-weight="normal"  stroke="#231f20" stroke-width="0.5">200</text>
<text x="1420.1" y="1628.0" font-size="37" text-anchor="start" fill="#231f20" font-weight="normal"  stroke="#231f20" stroke-width="0.5">400</text>
<text x="1489.6" y="1628.0" font-size="37" text-anchor="start" fill="#231f20" font-weight="normal"  stroke="#231f20" stroke-width="0.5">600</text>
<text x="1558.9" y="1628.0" font-size="37" text-anchor="start" fill="#231f20" font-weight="normal"  stroke="#231f20" stroke-width="0.5">800</text>
<text x="1627.5" y="1628.0" font-size="37" text-anchor="start" fill="#231f20" font-weight="normal"  stroke="#231f20" stroke-width="0.5">1000</text>
<text x="1713.5" y="1628.0" font-size="37" text-anchor="start" fill="#231f20" font-weight="normal"  stroke="#231f20" stroke-width="0.5">1200</text>
<text x="1208.3" y="1559.5" font-size="37" text-anchor="start" fill="#231f20" font-weight="normal" transform="rotate(-90 1208.3 1559.5)"  stroke="#231f20" stroke-width="0.5">Fixation count</text>
<text x="1382.7" y="1670.6" font-size="33" text-anchor="start" fill="#231f20" font-weight="normal"  stroke="#231f20" stroke-width="0.5">Fixation duration (ms)</text>
</g>
</svg>
</body>
</html>
